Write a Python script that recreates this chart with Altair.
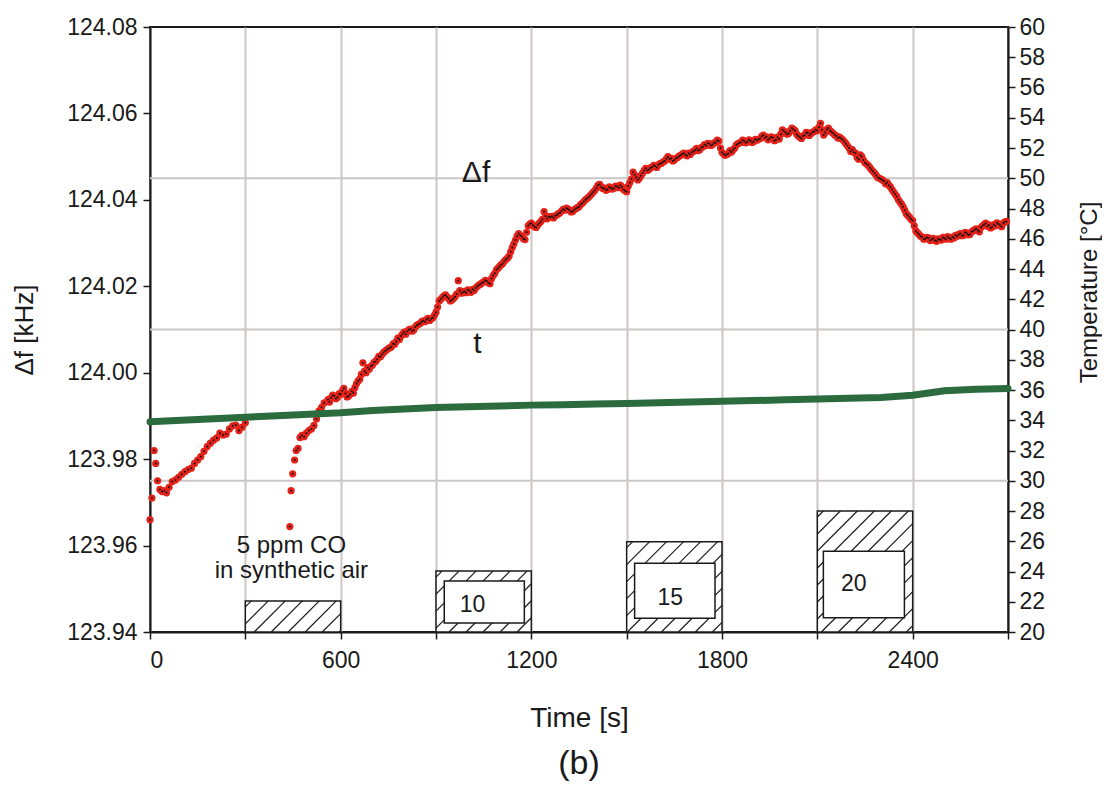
import altair as alt
import pandas as pd

FONT = "Liberation Sans"

# ---------------- data ----------------
# Δf [kHz] readings, part 1 (before the gap)
df_t_a = [0, 6, 13, 18, 24, 31, 38, 45, 52, 60, 70, 80, 90, 100, 110, 120, 130, 140,
          150, 160, 170, 180, 190, 200, 210, 220, 230, 240, 250, 260, 270, 280, 290, 300]
df_v_a = [123.966, 123.971, 123.982, 123.979, 123.975, 123.973, 123.9725, 123.9727, 123.9722,
          123.9735, 123.9748, 123.9752, 123.9758, 123.9765, 123.9771, 123.9776, 123.9779,
          123.9790, 123.9798, 123.9806, 123.9818, 123.9829, 123.9837, 123.9844, 123.9849,
          123.9860, 123.9856, 123.9858, 123.9870, 123.9877, 123.9879, 123.9866, 123.9874,
          123.9884]
# part 2 (recovery after the gap)
df_t_b = [440, 444, 449, 455, 460, 466, 472, 478, 485, 492, 500, 508, 516, 524, 532, 540, 548]
df_v_b = [123.9644, 123.9727, 123.9766, 123.9798, 123.9820, 123.9825, 123.9850, 123.9855,
          123.9852, 123.9860, 123.9866, 123.9870, 123.9878, 123.9893, 123.9912, 123.9920,
          123.9930]
# part 3: readings every 10 s from 560 s
df_c_start, df_c_step = 560, 10
df_v_c = [
    123.9938, 123.9942, 123.9946, 123.9943, 123.9950, 123.9964, 123.9944, 123.9950, 123.9953, 123.9975,
    123.9985, 124.0023, 124.0000, 124.0008, 124.0018, 124.0026, 124.0038, 124.0042, 124.0050, 124.0056,
    124.0060, 124.0066, 124.0080, 124.0085, 124.0094, 124.0096, 124.0101, 124.0099, 124.0110, 124.0114,
    124.0120, 124.0123, 124.0121, 124.0127, 124.0140, 124.0166, 124.0174, 124.0180, 124.0172, 124.0168,
    124.0176, 124.0213, 124.0184, 124.0188, 124.0192, 124.0186, 124.0190, 124.0200, 124.0205, 124.0210,
    124.0212, 124.0206, 124.0225, 124.0238, 124.0246, 124.0253, 124.0262, 124.0270, 124.0290, 124.0307,
    124.0322, 124.0315, 124.0308, 124.0340, 124.0346, 124.0338, 124.0342, 124.0350, 124.0373, 124.0356,
    124.0360, 124.0358, 124.0365, 124.0370, 124.0378, 124.0381, 124.0376, 124.0373, 124.0380, 124.0384,
    124.0392, 124.0400, 124.0406, 124.0414, 124.0422, 124.0434, 124.0430, 124.0427, 124.0424, 124.0428,
    124.0427, 124.0431, 124.0434, 124.0424, 124.0419, 124.0440, 124.0464, 124.0452, 124.0450, 124.0462,
    124.0473, 124.0470, 124.0476, 124.0478, 124.0481, 124.0485, 124.0490, 124.0500, 124.0496, 124.0492,
    124.0498, 124.0503, 124.0508, 124.0502, 124.0505, 124.0512, 124.0519, 124.0516, 124.0523, 124.0526,
    124.0530, 124.0528, 124.0533, 124.0536, 124.0510, 124.0503, 124.0507, 124.0511, 124.0520, 124.0530,
    124.0533, 124.0536, 124.0534, 124.0537, 124.0535, 124.0538, 124.0542, 124.0550, 124.0546, 124.0542,
    124.0544, 124.0539, 124.0541, 124.0562, 124.0556, 124.0554, 124.0566, 124.0560, 124.0548, 124.0542,
    124.0550, 124.0555, 124.0553, 124.0558, 124.0560, 124.0577, 124.0550, 124.0563, 124.0560, 124.0554,
    124.0548, 124.0545, 124.0539, 124.0530, 124.0520, 124.0516, 124.0508, 124.0494, 124.0500, 124.0486,
    124.0480, 124.0470, 124.0462, 124.0452, 124.0448, 124.0443, 124.0440, 124.0430, 124.0418, 124.0408,
    124.0395, 124.0384, 124.0368, 124.0360, 124.0352, 124.0328, 124.0320, 124.0314, 124.0310, 124.0312,
    124.0308, 124.0306, 124.0310, 124.0307, 124.0311, 124.0315, 124.0309, 124.0312, 124.0316, 124.0322,
    124.0318, 124.0323, 124.0320, 124.0328, 124.0333, 124.0326, 124.0340, 124.0346, 124.0342, 124.0337,
    124.0340, 124.0344, 124.0338, 124.0349,
]
# part 4: the in-between readings, every 10 s from 565 s
df_d_start, df_d_step = 565, 10
df_v_d = [
    123.9932, 123.9948, 123.9940, 123.9951, 123.9958, 123.9952, 123.9946, 123.9957, 123.9966, 123.9981,
    123.9996, 124.0004, 124.0012, 124.0015, 124.0024, 124.0031, 124.0037, 124.0047, 124.0053, 124.0058,
    124.0067, 124.0072, 124.0077, 124.0090, 124.0089, 124.0100, 124.0096, 124.0106, 124.0112, 124.0118,
    124.0118, 124.0126, 124.0125, 124.0133, 124.0152, 124.0170, 124.0178, 124.0175, 124.0166, 124.0172,
    124.0182, 124.0190, 124.0187, 124.0185, 124.0190, 124.0193, 124.0196, 124.0203, 124.0208, 124.0214,
    124.0208, 124.0218, 124.0230, 124.0242, 124.0250, 124.0258, 124.0265, 124.0280, 124.0298, 124.0316,
    124.0318, 124.0310, 124.0325, 124.0344, 124.0341, 124.0336, 124.0346, 124.0355, 124.0362, 124.0361,
    124.0362, 124.0363, 124.0368, 124.0374, 124.0376, 124.0379, 124.0372, 124.0377, 124.0382, 124.0389,
    124.0396, 124.0403, 124.0410, 124.0418, 124.0428, 124.0436, 124.0426, 124.0422, 124.0430, 124.0425,
    124.0432, 124.0428, 124.0430, 124.0421, 124.0432, 124.0448, 124.0458, 124.0446, 124.0456, 124.0468,
    124.0468, 124.0474, 124.0480, 124.0475, 124.0484, 124.0488, 124.0495, 124.0494, 124.0490, 124.0496,
    124.0501, 124.0506, 124.0504, 124.0508, 124.0510, 124.0515, 124.0514, 124.0521, 124.0528, 124.0531,
    124.0526, 124.0532, 124.0538, 124.0520, 124.0506, 124.0505, 124.0514, 124.0516, 124.0527, 124.0532,
    124.0538, 124.0532, 124.0539, 124.0533, 124.0540, 124.0540, 124.0547, 124.0544, 124.0539, 124.0546,
    124.0537, 124.0545, 124.0552, 124.0559, 124.0552, 124.0560, 124.0563, 124.0552, 124.0545, 124.0548,
    124.0556, 124.0549, 124.0557, 124.0562, 124.0568, 124.0562, 124.0556, 124.0566, 124.0557, 124.0550,
    124.0543, 124.0542, 124.0535, 124.0525, 124.0512, 124.0510, 124.0498, 124.0504, 124.0492, 124.0483,
    124.0475, 124.0466, 124.0457, 124.0450, 124.0446, 124.0437, 124.0434, 124.0424, 124.0413, 124.0400,
    124.0390, 124.0376, 124.0364, 124.0355, 124.0340, 124.0324, 124.0316, 124.0309, 124.0313, 124.0306,
    124.0311, 124.0304, 124.0308, 124.0313, 124.0309, 124.0312, 124.0314, 124.0318, 124.0320, 124.0317,
    124.0325, 124.0319, 124.0326, 124.0331, 124.0329, 124.0336, 124.0343, 124.0339, 124.0335, 124.0343,
    124.0347, 124.0341, 124.0346, 124.0350,
]

# temperature [°C]
temp_t = [0, 100, 200, 300, 400, 500, 600, 700, 800, 900, 1000, 1100, 1200, 1300,
          1400, 1500, 1600, 1700, 1800, 1900, 2000, 2100, 2200, 2300, 2400, 2500, 2600, 2700]
temp_v = [33.9, 34.0, 34.1, 34.2, 34.3, 34.4, 34.5, 34.65, 34.75, 34.85, 34.9, 34.95, 35.0, 35.03,
          35.07, 35.1, 35.15, 35.2, 35.25, 35.3, 35.35, 35.4, 35.45, 35.5, 35.65, 35.95, 36.05, 36.1]

# CO gas pulses (hatched boxes)
box_t0 = [300, 900, 1500, 2100]
box_t1 = [600, 1200, 1800, 2400]
box_top = [123.9472, 123.9541, 123.9609, 123.9680]
inner_t0 = [926, 1525, 2119]
inner_t1 = [1178, 1778, 2374]
inner_v0 = [123.9421, 123.9432, 123.9433]
inner_v1 = [123.9518, 123.9559, 123.9587]
inner_label = ["10", "15", "20"]
inner_label_t = [1015, 1637, 2215]
inner_label_v = [123.9463, 123.9479, 123.9511]

note_lines = ["5 ppm CO", "in synthetic air"]
note_t = [445, 445]
note_v = [123.9600, 123.9542]

x_ticks = [0, 300, 600, 900, 1200, 1500, 1800, 2100, 2400, 2700]
y_ticks = [123.94, 123.96, 123.98, 124.00, 124.02, 124.04, 124.06, 124.08]
t_ticks = [20, 22, 24, 26, 28, 30, 32, 34, 36, 38, 40, 42, 44, 46, 48, 50, 52, 54, 56, 58, 60]
t_grid = [30, 40, 50]

# ---------------- frames ----------------
W, H = 858, 605
T0, T1 = 0, 2700
V0, V1 = 123.94, 124.08

df_t_c = [df_c_start + df_c_step * i for i in range(len(df_v_c))]
df_t_d = [df_d_start + df_d_step * i for i in range(len(df_v_d))]
dots = pd.DataFrame({"t": df_t_a + df_t_b + df_t_c + df_t_d,
                     "v": df_v_a + df_v_b + df_v_c + df_v_d})
temp = pd.DataFrame({"t": temp_t, "T": temp_v})
boxes = pd.DataFrame({"t": box_t0, "t2": box_t1, "v": [V0] * 4, "v2": box_top})
inner = pd.DataFrame({"t": inner_t0, "t2": inner_t1, "v": inner_v0, "v2": inner_v1})
inner_txt = pd.DataFrame({"t": inner_label_t, "v": inner_label_v, "label": inner_label})
note = pd.DataFrame({"t": note_t, "v": note_v, "label": note_lines})
sym = pd.DataFrame({"t": [1026, 1030], "v": [124.0462, 124.0067], "label": ["Δf", "t"]})
tgrid = pd.DataFrame({"T": t_grid})

# hatch segments (45° in screen space), clipped to each box
pps = W / (T1 - T0)
ppv = H / (V1 - V0)
step = 17.0
rows = []
for a, b, top in zip(box_t0, box_t1, box_top):
    u0, u1 = a * pps, b * pps
    w0, w1 = 0.0, (top - V0) * ppv
    c = u0 - w1 + 6
    while c < u1 - w0:
        us = max(u0, w0 + c)
        ue = min(u1, w1 + c)
        if ue > us:
            rows.append({"t": us / pps, "t2": ue / pps,
                         "v": V0 + (us - c) / ppv, "v2": V0 + (ue - c) / ppv})
        c += step
hatch = pd.DataFrame(rows)

# ---------------- chart ----------------
xscale = alt.Scale(domain=[T0, T1], nice=False, zero=False)
yscale = alt.Scale(domain=[V0, V1], nice=False, zero=False)
tscale = alt.Scale(domain=[20, 60], nice=False, zero=False)

GRID = "#cdc6c6"
INK = "#1a1a1a"

xaxis = alt.Axis(title="Time [s]", values=x_ticks, format="d",
                 labelExpr="datum.value % 600 == 0 ? datum.label : ''",
                 grid=True, gridColor=GRID, gridWidth=2,
                 tickSize=7, tickWidth=1.5, tickColor=INK,
                 domainColor=INK, domainWidth=2,
                 labelPadding=10, titlePadding=32, labelFontSize=23, titleFontSize=28)
yaxis = alt.Axis(title="Δf  [kHz]", orient="left", values=y_ticks, format=".2f", grid=False,
                 tickSize=7, tickWidth=1.5, tickColor=INK, domainColor=INK, domainWidth=2,
                 labelPadding=6, titlePadding=29, labelFontSize=23, titleFontSize=26)
taxis = alt.Axis(title="Temperature [°C]", orient="right", values=t_ticks, format="d", grid=False,
                 tickSize=7, tickWidth=1.5, tickColor=INK, domainColor=INK, domainWidth=2,
                 labelPadding=4, titlePadding=57, labelFontSize=23, titleFontSize=24,
                 titleAngle=270, titleY=265)


def X(f="t"):
    return alt.X(f"{f}:Q", scale=xscale, axis=xaxis)


def Y(f="v"):
    return alt.Y(f"{f}:Q", scale=yscale, axis=yaxis)


red = alt.Chart(dots).mark_circle(size=52, color="#e52219", opacity=1).encode(x=X(), y=Y())
core = alt.Chart(dots).mark_circle(size=4, color="#111111", opacity=1).encode(x=X(), y=Y())

outer = alt.Chart(boxes).mark_rect(fill="white", stroke=INK, strokeWidth=1.5).encode(
    x=X(), x2="t2", y=Y(), y2="v2")
hatch_l = alt.Chart(hatch).mark_rule(color=INK, strokeWidth=1.2).encode(
    x=X(), x2="t2", y=Y(), y2="v2")
inner_l = alt.Chart(inner).mark_rect(fill="white", stroke=INK, strokeWidth=1.5).encode(
    x=X(), x2="t2", y=Y(), y2="v2")
inner_t = alt.Chart(inner_txt).mark_text(font=FONT, fontSize=23, color=INK, baseline="middle").encode(
    x=X(), y=Y(), text="label:N")
note_l = alt.Chart(note).mark_text(font=FONT, fontSize=24, color=INK, baseline="middle").encode(
    x=X(), y=Y(), text="label:N")
sym_l = alt.Chart(sym).mark_text(font=FONT, fontSize=30, color=INK, baseline="middle").encode(
    x=X(), y=Y(), text="label:N")

khz = alt.layer(red, core, outer, hatch_l, inner_l, inner_t, note_l, sym_l)

tgrid_l = alt.Chart(tgrid).mark_rule(color=GRID, strokeWidth=2).encode(
    y=alt.Y("T:Q", scale=tscale, axis=None))
green = alt.Chart(temp).mark_line(color="#2b6b3d", strokeWidth=7, strokeCap="round").encode(
    x=X(), y=alt.Y("T:Q", scale=tscale, axis=taxis))

chart = alt.layer(tgrid_l, khz, green).resolve_scale(y="independent").properties(
    width=W, height=H,
    padding={"left": 3, "top": 8, "right": 0, "bottom": 0},
    title=alt.Title("(b)", orient="bottom", anchor="middle", fontSize=34, font=FONT,
                    fontWeight="normal", color=INK, offset=15),
).configure_view(stroke=INK, strokeWidth=2).configure_axis(
    labelFont=FONT, titleFont=FONT, labelColor=INK, titleColor=INK, titleFontWeight="normal"
)

chart.save("out.html", embed_options={"renderer": "svg", "actions": False})
